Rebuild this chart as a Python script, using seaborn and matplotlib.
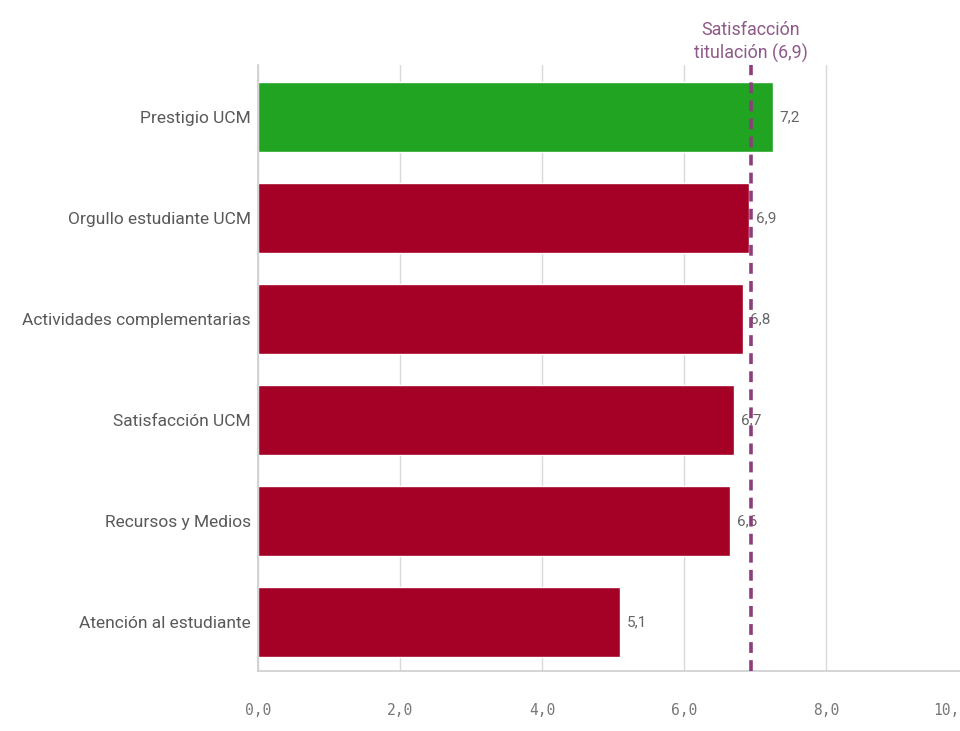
import matplotlib
matplotlib.use("Agg")
import matplotlib.pyplot as plt
import seaborn as sns
import pandas as pd

categories = ["Prestigio UCM", "Orgullo estudiante UCM", "Actividades complementarias",
              "Satisfacción UCM", "Recursos y Medios", "Atención al estudiante"]
values = [7.25, 6.92, 6.83, 6.70, 6.65, 5.10]
value_labels = ["7,2", "6,9", "6,8", "6,7", "6,6", "5,1"]
bar_colors = ["#21a421", "#a50026", "#a50026", "#a50026", "#a50026", "#a50026"]
ref_value = 6.94
ref_label = "Satisfacción\ntitulación (6,9)"
xticks = [0, 2, 4, 6, 8, 10]
xtick_labels = ["0,0", "2,0", "4,0", "6,0", "8,0", "10,0"]

sns.set_theme(style="white")
plt.rcParams["font.family"] = ["Roboto", "DejaVu Sans"]

df = pd.DataFrame({"cat": categories, "val": values})

fig = plt.figure(figsize=(9.6, 7.31), dpi=100)
ax = fig.add_axes([258/960, 60/731, 731/960, 606/731])

sns.barplot(data=df, y="cat", x="val", hue="cat", palette=bar_colors,
            order=categories, hue_order=categories, width=0.7,
            legend=False, ax=ax, saturation=1, orient="h")

ax.set_xlim(0, 10.3)
ax.set_ylim(5.485, -0.515)
ax.set_xticks(xticks)
ax.set_xticklabels(xtick_labels, family="DejaVu Sans Mono", color="#777777", fontsize=10.5)
ax.get_xticklabels()[-1].set_ha("right")
ax.set_xlabel("")
ax.set_ylabel("")
ax.tick_params(axis="y", length=0, labelsize=12.5, labelcolor="#595959", pad=5)
ax.tick_params(axis="x", length=12, width=1, color="#d0d0d0", pad=11)

ax.grid(axis="x", color="#d9d9d9", linewidth=1)
ax.set_axisbelow(True)
for s in ["top", "right"]:
    ax.spines[s].set_visible(False)
ax.spines["left"].set_color("#cfcfcf")
ax.spines["bottom"].set_color("#d0d0d0")

for i, (v, lab) in enumerate(zip(values, value_labels)):
    ax.text(v + 0.1, i, lab, va="center", ha="left", fontsize=11, color="#666666")

ax.axvline(ref_value, color="#8c3e7c", linestyle=(0, (3, 2)), linewidth=2.6, zorder=5)
ax.text(ref_value, -0.535, ref_label, ha="center", va="bottom", fontsize=12.9,
        color="#8e5a88", linespacing=1.3)

fig.savefig("out.png", dpi=100)
